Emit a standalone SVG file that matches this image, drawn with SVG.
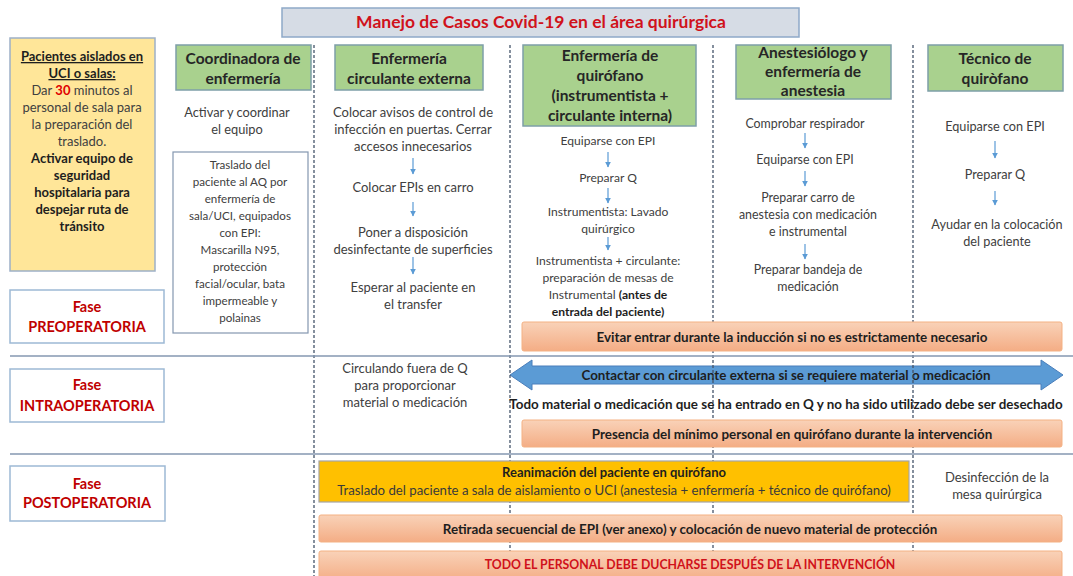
<svg xmlns="http://www.w3.org/2000/svg" width="1073" height="576" viewBox="0 0 1073 576">
<defs>
<style>
.t{font-family:Lato,"Liberation Sans",sans-serif;font-size:13px;fill:#404040;text-anchor:middle}
.tb{font-family:Lato,"Liberation Sans",sans-serif;font-size:13px;font-weight:bold;fill:#1e1e1e;text-anchor:middle}
.bar{font-family:Lato,"Liberation Sans",sans-serif;font-size:13.4px;font-weight:bold;fill:#1e1e1e;text-anchor:middle}
.h{font-family:Lato,"Liberation Sans",sans-serif;font-size:15.5px;font-weight:bold;fill:#262626;text-anchor:middle}
.ph{font-family:Lato,"Liberation Sans",sans-serif;font-size:14.5px;font-weight:bold;fill:#C00000;text-anchor:middle}
.green{fill:#A9D18E;stroke:#7E9FA8;stroke-width:1.5}
.phase{fill:#fff;stroke:#9DB9D5;stroke-width:1.5}
.sal{fill:url(#salg);stroke:#F4B183;stroke-width:1}
.vl{stroke:#44546A;stroke-width:1.3;stroke-dasharray:3,2}
.hl{stroke:#8497B0;stroke-width:1.5}
.sa{stroke:#5B9BD5;stroke-width:1.2;marker-end:url(#ah)}
</style>
<linearGradient id="salg" x1="0" y1="0" x2="0" y2="1">
<stop offset="0" stop-color="#F9D2B8"/>
<stop offset="1" stop-color="#F4AD85"/>
</linearGradient>
<marker id="ah" viewBox="0 0 10 10" refX="9" refY="5" markerWidth="6" markerHeight="6" orient="auto" markerUnits="userSpaceOnUse">
<path d="M0,0 L10,5 L0,10 z" fill="#5B9BD5"/>
</marker>
</defs>
<rect width="1073" height="576" fill="#fff"/>

<g id="title">
<rect x="282" y="8" width="517" height="29" fill="#D6DCE5" stroke="#8EA9C8" stroke-width="1.5"/>
<text x="541" y="28" style="font-family:Lato,'Liberation Sans',sans-serif;font-size:17.5px;font-weight:bold;fill:#D0121B;text-anchor:middle">Manejo de Casos Covid-19 en el área quirúrgica</text>
</g>

<g id="blue-arrow">
<path d="M510,375 L532,360 L532,366 L1041,366 L1041,360 L1063,375 L1041,390 L1041,384 L532,384 L532,390 Z" fill="#5B9BD5" stroke="#4A7EBB" stroke-width="1"/>
<text class="bar" x="786" y="380">Contactar con circulante externa si se requiere material o medicación</text>
</g>

<g id="connectors">
<line class="vl" x1="314" y1="45" x2="314" y2="576"/>
<line class="vl" x1="510" y1="45" x2="510" y2="576"/>
<line class="vl" x1="713" y1="45" x2="713" y2="576"/>
<line class="vl" x1="913" y1="45" x2="913" y2="576"/>
<line class="hl" x1="10" y1="356" x2="1073" y2="356"/>
<line class="hl" x1="10" y1="454" x2="1073" y2="454"/>
<line class="sa" x1="413" y1="158" x2="413" y2="174"/>
<line class="sa" x1="413" y1="202" x2="413" y2="216"/>
<line class="sa" x1="413" y1="257" x2="413" y2="274"/>
<line class="sa" x1="608" y1="152" x2="608" y2="167"/>
<line class="sa" x1="608" y1="188" x2="608" y2="203"/>
<line class="sa" x1="608" y1="237" x2="608" y2="250"/>
<line class="sa" x1="805" y1="133" x2="805" y2="148"/>
<line class="sa" x1="805" y1="171" x2="805" y2="186"/>
<line class="sa" x1="805" y1="244" x2="805" y2="259"/>
<line class="sa" x1="995" y1="141" x2="995" y2="158"/>
<line class="sa" x1="995" y1="191" x2="995" y2="205"/>
</g>

<g id="pacientes-aislados">
<rect x="10" y="38" width="145" height="233" fill="#FFE699" stroke="#9DB0C8" stroke-width="1.5"/>
<text class="tb" x="82" y="61" text-decoration="underline">Pacientes aislados en</text>
<text class="tb" x="82" y="78" text-decoration="underline">UCI o salas:</text>
<text class="t" x="82" y="95">Dar <tspan style="fill:#E00000;font-weight:bold">30</tspan> minutos al</text>
<text class="t" x="82" y="112">personal de sala para</text>
<text class="t" x="82" y="129">la preparación del</text>
<text class="t" x="82" y="146">traslado.</text>
<text class="tb" x="82" y="163">Activar equipo de</text>
<text class="tb" x="82" y="180">seguridad</text>
<text class="tb" x="82" y="197">hospitalaria para</text>
<text class="tb" x="82" y="214">despejar ruta de</text>
<text class="tb" x="82" y="231">tránsito</text>
</g>

<g id="coordinadora">
<rect class="green" x="176" y="45" width="135" height="45"/>
<text class="h" x="243" y="64">Coordinadora de</text>
<text class="h" x="243" y="84">enfermería</text>
<text class="t" x="237" y="117" style="font-size:12.8px">Activar y coordinar</text>
<text class="t" x="237" y="134" style="font-size:12.8px">el equipo</text>
</g>

<g id="traslado" style="font-size:11.6px">
<rect x="173" y="152" width="135" height="181" fill="#fff" stroke="#8497B0" stroke-width="1.2"/>
<text class="t" x="240" y="169" style="font-size:11.6px">Traslado del</text>
<text class="t" x="240" y="186" style="font-size:11.6px">paciente al AQ por</text>
<text class="t" x="240" y="203" style="font-size:11.6px">enfermería de</text>
<text class="t" x="240" y="220" style="font-size:11.6px">sala/UCI, equipados</text>
<text class="t" x="240" y="237" style="font-size:11.6px">con EPI:</text>
<text class="t" x="240" y="254" style="font-size:11.6px">Mascarilla N95,</text>
<text class="t" x="240" y="271" style="font-size:11.6px">protección</text>
<text class="t" x="240" y="288" style="font-size:11.6px">facial/ocular, bata</text>
<text class="t" x="240" y="305" style="font-size:11.6px">impermeable y</text>
<text class="t" x="240" y="322" style="font-size:11.6px">polainas</text>
</g>

<g id="circulante-externa">
<rect class="green" x="335" y="45" width="148" height="45"/>
<text class="h" x="409" y="64">Enfermería</text>
<text class="h" x="409" y="84">circulante externa</text>
<text class="t" x="413" y="117">Colocar avisos de control de</text>
<text class="t" x="413" y="134">infección en puertas. Cerrar</text>
<text class="t" x="413" y="151">accesos innecesarios</text>
<text class="t" x="413" y="192">Colocar EPIs en carro</text>
<text class="t" x="413" y="237">Poner a disposición</text>
<text class="t" x="413" y="254">desinfectante de superficies</text>
<text class="t" x="413" y="292">Esperar al paciente en</text>
<text class="t" x="413" y="309">el transfer</text>
</g>

<g id="enfermeria-quirofano">
<rect class="green" x="523" y="45" width="173" height="81"/>
<text class="h" x="610" y="61">Enfermería de</text>
<text class="h" x="610" y="81">quirófano</text>
<text class="h" x="610" y="101">(instrumentista +</text>
<text class="h" x="610" y="121">circulante interna)</text>
<text class="t" x="608" y="145" style="font-size:12.1px">Equiparse con EPI</text>
<text class="t" x="608" y="182" style="font-size:12.1px">Preparar Q</text>
<text class="t" x="608" y="216" style="font-size:12.1px">Instrumentista: Lavado</text>
<text class="t" x="608" y="233" style="font-size:12.1px">quirúrgico</text>
<text class="t" x="608" y="265" style="font-size:12.1px">Instrumentista + circulante:</text>
<text class="t" x="608" y="282" style="font-size:12.1px">preparación de mesas de</text>
<text class="t" x="608" y="299" style="font-size:12.1px">Instrumental <tspan style="font-weight:bold;fill:#1e1e1e">(antes de</tspan></text>
<text class="tb" x="608" y="316" style="font-size:12.1px">entrada del paciente)</text>
</g>

<g id="anestesia">
<rect class="green" x="736" y="45" width="155" height="54"/>
<text class="h" x="813" y="58">Anestesiólogo y</text>
<text class="h" x="813" y="77">enfermería de</text>
<text class="h" x="813" y="96">anestesia</text>
<text class="t" x="805" y="128" style="font-size:12.4px">Comprobar  respirador</text>
<text class="t" x="805" y="164" style="font-size:12.4px">Equiparse con EPI</text>
<text class="t" x="808" y="202" style="font-size:12.4px">Preparar carro de</text>
<text class="t" x="808" y="219" style="font-size:12.4px">anestesia con medicación</text>
<text class="t" x="808" y="236" style="font-size:12.4px">e instrumental</text>
<text class="t" x="808" y="274" style="font-size:12.4px">Preparar bandeja de</text>
<text class="t" x="808" y="291" style="font-size:12.4px">medicación</text>
</g>

<g id="tecnico">
<rect class="green" x="928" y="45" width="135" height="46"/>
<text class="h" x="995" y="64">Técnico de</text>
<text class="h" x="995" y="84">quiròfano</text>
<text class="t" x="995" y="131" style="font-size:12.7px">Equiparse con EPI</text>
<text class="t" x="995" y="179" style="font-size:12.7px">Preparar Q</text>
<text class="t" x="997" y="229" style="font-size:12.7px">Ayudar en la colocación</text>
<text class="t" x="997" y="246" style="font-size:12.7px">del paciente</text>
</g>

<g id="fase-pre">
<rect class="phase" x="10" y="290" width="154" height="53"/>
<text class="ph" x="87" y="312">Fase</text>
<text class="ph" x="87" y="332">PREOPERATORIA</text>
</g>

<g id="evitar">
<rect class="sal" x="522" y="322" width="540" height="29" rx="2"/>
<text class="bar" x="792" y="342">Evitar entrar durante la inducción si no es estrictamente necesario</text>
</g>

<g id="fase-intra">
<rect class="phase" x="10" y="369" width="154" height="53"/>
<text class="ph" x="87" y="390">Fase</text>
<text class="ph" x="87" y="411">INTRAOPERATORIA</text>
</g>

<g id="circulando">
<text class="t" x="405" y="373">Circulando fuera de Q</text>
<text class="t" x="405" y="390">para proporcionar</text>
<text class="t" x="405" y="407">material o medicación</text>
</g>

<g id="todo-material">
<text class="bar" x="786" y="409">Todo material o medicación que se ha entrado en Q y no ha sido utilizado debe ser desechado</text>
</g>

<g id="presencia">
<rect class="sal" x="522" y="420" width="540" height="27" rx="2"/>
<text class="bar" x="792" y="439">Presencia del mínimo personal en quirófano durante la intervención</text>
</g>

<g id="fase-post">
<rect class="phase" x="10" y="466" width="155" height="55"/>
<text class="ph" x="87" y="489">Fase</text>
<text class="ph" x="87" y="508">POSTOPERATORIA</text>
</g>

<g id="reanimacion">
<rect x="319" y="461" width="590" height="41" fill="#FFC000" stroke="#A5A5A5" stroke-width="1.2"/>
<text class="bar" x="614" y="477" style="font-size:13px">Reanimación del paciente en quirófano</text>
<text class="t" x="614" y="495" style="fill:#3a3a3a;font-size:13.2px">Traslado del paciente a sala de aislamiento o UCI (anestesia + enfermería + técnico de quirófano)</text>
</g>

<g id="desinfeccion">
<text class="t" x="997" y="482">Desinfección de la</text>
<text class="t" x="997" y="499">mesa quirúrgica</text>
</g>

<g id="retirada">
<rect class="sal" x="319" y="515" width="743" height="27" rx="2"/>
<text class="bar" x="690" y="534">Retirada secuencial de EPI (ver anexo) y colocación de nuevo material de protección</text>
</g>

<g id="ducharse">
<rect class="sal" x="319" y="551" width="743" height="30" rx="2"/>
<text class="bar" x="690" y="569" style="fill:#D0121B;font-size:12.3px">TODO EL PERSONAL DEBE DUCHARSE DESPUÉS DE LA INTERVENCIÓN</text>
</g>
</svg>
